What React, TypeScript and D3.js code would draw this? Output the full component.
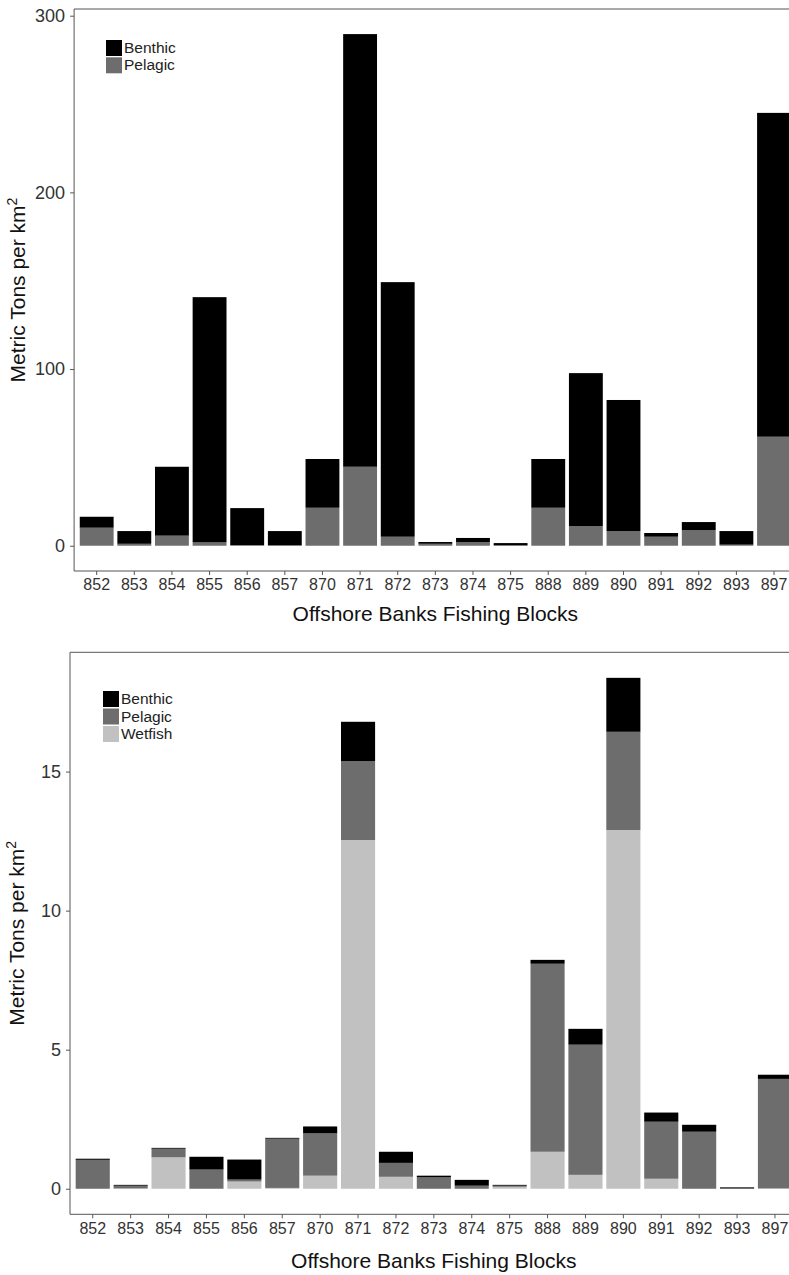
import React, { useEffect, useRef } from "react";
import * as d3 from "d3";

// Fishing blocks (x categories)
const blocks = ["852", "853", "854", "855", "856", "857", "870", "871", "872", "873", "874", "875", "888", "889", "890", "891", "892", "893", "897"];

// Top chart: metric tons per km2
const topPelagic = [10.2, 1.1, 5.7, 1.9, 0.3, 0.2, 21.5, 44.7, 5.1, 1.1, 2.1, 0.2, 21.5, 11.1, 8.3, 5.1, 8.9, 0.6, 61.7];
const topBenthic = [6.2, 7.2, 39.0, 138.8, 21.0, 8.1, 27.6, 244.9, 144.1, 1.0, 2.3, 1.3, 27.6, 86.6, 74.2, 2.1, 4.5, 7.7, 183.3];
const topTicks = [0, 100, 200, 300];

// Bottom chart
const botWetfish = [0, 0.01, 1.13, 0, 0.26, 0.03, 0.47, 12.54, 0.43, 0, 0, 0.07, 1.33, 0.5, 12.9, 0.36, 0, 0, 0.01];
const botPelagic = [1.04, 0.1, 0.31, 0.69, 0.07, 1.77, 1.52, 2.84, 0.5, 0.41, 0.11, 0.04, 6.76, 4.68, 3.53, 2.05, 2.05, 0.01, 3.94];
const botBenthic = [0.04, 0.03, 0.03, 0.46, 0.72, 0.03, 0.25, 1.41, 0.4, 0.06, 0.21, 0.03, 0.14, 0.57, 1.94, 0.33, 0.25, 0.04, 0.15];
const botTicks = [0, 5, 10, 15];

const colors = { Benthic: "#000000", Pelagic: "#6d6d6d", Wetfish: "#c1c1c1" };
const FONT = "'Liberation Sans', Arial, sans-serif";

const App = () => {
  const svgRef = useRef(null);

  useEffect(() => {
    const svg = d3.select(svgRef.current);
    svg.selectAll("*").remove();

    const drawPanel = (opts) => {
      const { left, right, top, bottom, domain, ticks, series, keys, legend, titleY, ytitleX } = opts;
      const g = svg.append("g");

      const x = d3.scaleBand().domain(blocks).range([left, right]).paddingInner(0.1).paddingOuter(0.15);
      const y = d3.scaleLinear().domain(domain).range([bottom, top]);

      const rows = blocks.map((b, i) => {
        const r = { block: b };
        keys.forEach((k) => (r[k] = series[k][i]));
        return r;
      });
      // stack bottom-up: last key at the bottom
      const stack = d3.stack().keys([...keys].reverse())(rows);

      stack.forEach((layer) => {
        g.append("g")
          .selectAll("rect")
          .data(layer)
          .enter()
          .append("rect")
          .attr("x", (d) => x(d.data.block))
          .attr("y", (d) => y(d[1]))
          .attr("width", x.bandwidth())
          .attr("height", (d) => Math.max(0, y(d[0]) - y(d[1])))
          .attr("fill", colors[layer.key]);
      });

      // frame
      g.append("line").attr("x1", left).attr("x2", right).attr("y1", top).attr("y2", top).attr("stroke", "#555").attr("stroke-width", 1);
      g.append("line").attr("x1", left).attr("x2", right).attr("y1", bottom).attr("y2", bottom).attr("stroke", "#555").attr("stroke-width", 1);
      g.append("line").attr("x1", left).attr("x2", left).attr("y1", top).attr("y2", bottom).attr("stroke", "#555").attr("stroke-width", 1);

      // y axis
      const ya = g.append("g").attr("transform", `translate(${left},0)`).call(d3.axisLeft(y).tickValues(ticks).tickSize(4).tickPadding(5));
      ya.select(".domain").remove();
      ya.selectAll("line").attr("stroke", "#555");
      ya.selectAll("text").attr("font-family", FONT).attr("font-size", 18).attr("fill", "#333");

      // x axis
      const xa = g.append("g").attr("transform", `translate(0,${bottom})`).call(d3.axisBottom(x).tickSize(4).tickPadding(4));
      xa.select(".domain").remove();
      xa.selectAll("line").attr("stroke", "#555");
      xa.selectAll("text").attr("font-family", FONT).attr("font-size", 16).attr("fill", "#333");

      // x title
      g.append("text")
        .attr("x", (left + right) / 2)
        .attr("y", titleY)
        .attr("text-anchor", "middle")
        .attr("font-family", FONT)
        .attr("font-size", 21)
        .attr("fill", "#111")
        .text("Offshore Banks Fishing Blocks");

      // y title
      const yt = g.append("text")
        .attr("transform", `translate(${ytitleX},${(top + bottom) / 2}) rotate(-90)`)
        .attr("text-anchor", "middle")
        .attr("font-family", FONT)
        .attr("font-size", 21)
        .attr("fill", "#111");
      yt.append("tspan").text("Metric Tons per km");
      yt.append("tspan").attr("font-size", 14).attr("dy", -8).text("2");

      // legend
      keys.forEach((k, i) => {
        g.append("rect")
          .attr("x", legend.x)
          .attr("y", legend.y + i * legend.step)
          .attr("width", 16)
          .attr("height", 16)
          .attr("fill", colors[k]);
        g.append("text")
          .attr("x", legend.x + 18)
          .attr("y", legend.y + i * legend.step + 13)
          .attr("font-family", FONT)
          .attr("font-size", 15.5)
          .attr("fill", "#222")
          .text(k);
      });
    };

    drawPanel({
      left: 74.1,
      right: 796.6,
      top: 9,
      bottom: 571,
      domain: [-14.3, 303.8],
      ticks: topTicks,
      series: { Benthic: topBenthic, Pelagic: topPelagic },
      keys: ["Benthic", "Pelagic"],
      legend: { x: 106, y: 40, step: 17.3 },
      titleY: 621,
      ytitleX: 25,
    });

    drawPanel({
      left: 70,
      right: 797.7,
      top: 652.3,
      bottom: 1214.3,
      domain: [-0.9185, 19.2885],
      ticks: botTicks,
      series: { Benthic: botBenthic, Pelagic: botPelagic, Wetfish: botWetfish },
      keys: ["Benthic", "Pelagic", "Wetfish"],
      legend: { x: 103, y: 691, step: 17.5 },
      titleY: 1268,
      ytitleX: 24,
    });
  }, []);

  return (
    <div style={{ position: "absolute", left: 0, top: 0 }}>
      <svg ref={svgRef} width={789} height={1275} style={{ display: "block", background: "#fff" }}></svg>
    </div>
  );
};

export default App;
